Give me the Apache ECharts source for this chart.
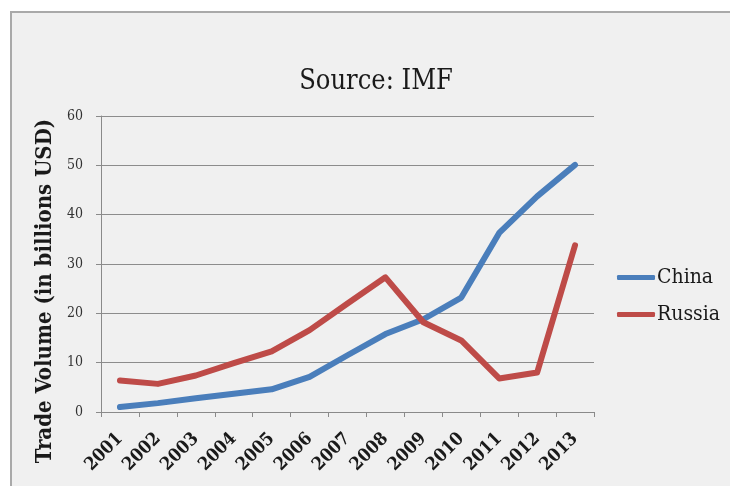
<!DOCTYPE html>
<html>
<head>
<meta charset="utf-8">
<script src="https://cdn.jsdelivr.net/npm/echarts@6/dist/echarts.min.js"></script>
<style>
  html, body { margin: 0; padding: 0; background: #ffffff; }
  #frame { position: absolute; left: 10px; top: 11px; width: 730px; height: 486px;
           background: #f0f0f0; border-left: 2px solid #a9a9a9; border-top: 2px solid #a9a9a9; }
  #chart { position: absolute; left: 0; top: 0; width: 730px; height: 486px; }
</style>
</head>
<body>
<div id="frame"></div>
<div id="chart"></div>
<script>
const years = ['2001','2002','2003','2004','2005','2006','2007','2008','2009','2010','2011','2012','2013'];
const china = [1.0, 1.8, 2.8, 3.7, 4.6, 7.1, 11.5, 15.8, 18.8, 23.2, 36.3, 43.7, 50.1];
const russia = [6.4, 5.7, 7.4, 9.9, 12.3, 16.6, 22.0, 27.3, 18.2, 14.5, 6.8, 8.0, 33.8];
const yTicks = [0, 10, 20, 30, 40, 50, 60];
const yTitle = 'Trade Volume (in billions USD)';

const FONT = "'DejaVu Serif Condensed', 'DejaVu Serif', serif";
const chart = echarts.init(document.getElementById('chart'), null, { renderer: 'canvas' });
chart.setOption({
  backgroundColor: 'transparent',
  animation: false,
  title: {
    text: 'Source: IMF',
    left: 371, top: 63, textAlign: 'center',
    textStyle: { fontFamily: FONT, fontSize: 27, fontWeight: 'normal', color: '#1a1a1a' }
  },
  graphic: [{
    type: 'text',
    x: 45, y: 291, rotation: Math.PI / 2,
    style: {
      text: yTitle, fontFamily: FONT, fontSize: 22, fontWeight: 'bold',
      fill: '#1a1a1a', align: 'center', verticalAlign: 'middle'
    }
  }],
  legend: {
    orient: 'vertical',
    left: 612, top: 262,
    itemWidth: 38, itemHeight: 5, itemGap: 16,
    icon: 'roundRect',
    textStyle: { fontFamily: FONT, fontSize: 21, color: '#1a1a1a', padding: [0, 0, 0, -3] },
    data: ['China', 'Russia']
  },
  grid: { left: 101, top: 116, width: 493, height: 296 },
  xAxis: {
    type: 'category',
    data: years,
    boundaryGap: true,
    axisLine: { lineStyle: { color: '#8a8a8a', width: 1 } },
    axisTick: { show: true, length: 5, inside: false, alignWithLabel: false, lineStyle: { color: '#8a8a8a' } },
    axisLabel: { rotate: 45, margin: 24, interval: 0, fontFamily: FONT, fontSize: 18, fontWeight: 'bold', color: '#1a1a1a' }
  },
  yAxis: {
    type: 'value',
    min: yTicks[0], max: yTicks[yTicks.length - 1], interval: 10,
    axisLine: { show: true, lineStyle: { color: '#8a8a8a', width: 1 } },
    axisTick: { show: true, length: 5, lineStyle: { color: '#8a8a8a' } },
    axisLabel: { margin: 18, fontFamily: FONT, fontSize: 14, color: '#333333' },
    splitLine: { show: true, lineStyle: { color: '#8c8c8c', width: 1 } }
  },
  series: [
    { name: 'China', type: 'line', data: china, showSymbol: false, symbol: 'none',
      itemStyle: { color: '#4a7ebb' },
      lineStyle: { color: '#4a7ebb', width: 6, cap: 'round', join: 'round' } },
    { name: 'Russia', type: 'line', data: russia, showSymbol: false, symbol: 'none',
      itemStyle: { color: '#be4b48' },
      lineStyle: { color: '#be4b48', width: 6, cap: 'round', join: 'round' } }
  ]
});
</script>
</body>
</html>
